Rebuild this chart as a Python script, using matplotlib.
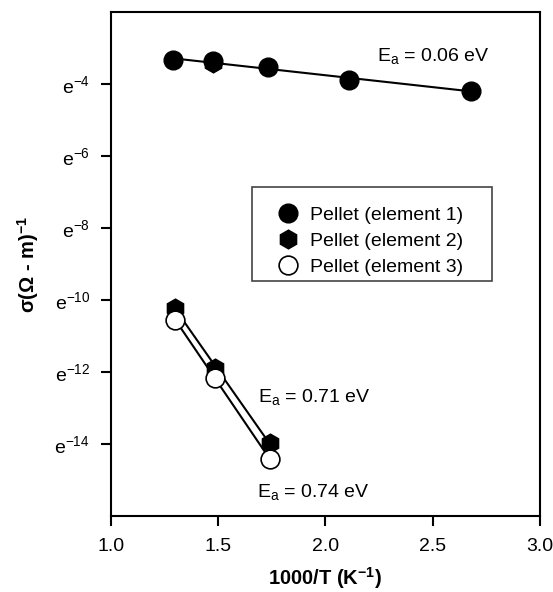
import numpy as np
import matplotlib
matplotlib.use("Agg")
import matplotlib.pyplot as plt
from matplotlib.patches import Rectangle

plt.rcParams['font.family'] = ['Liberation Sans', 'DejaVu Sans']
plt.rcParams['mathtext.default'] = 'regular'

# data: x = 1000/T, y = ln(sigma)
x1 = [1.29, 1.475, 1.73, 2.11, 2.68]
y1 = [-3.33, -3.37, -3.53, -3.89, -4.19]
x2 = [1.30, 1.485, 1.74]
y2 = [-10.22, -11.89, -13.97]
x3 = [1.30, 1.485, 1.74]
y3 = [-10.56, -12.17, -14.42]
x2_top = [1.475]
y2_top = [-3.41]

yticks = [-4, -6, -8, -10, -12, -14]
xticks = [1.0, 1.5, 2.0, 2.5, 3.0]
ea_labels = ["0.06", "0.71", "0.74"]

fig = plt.figure(figsize=(5.53, 5.92), dpi=100)
ax = fig.add_axes([0.2007, 0.1284, 0.7758, 0.8513])

# fit lines
for xs, ys in [(x1, y1), (x2, y2), (x3, y3)]:
    p = np.polyfit(xs, ys, 1)
    xx = np.array([min(xs), max(xs)])
    ax.plot(xx, np.polyval(p, xx), color='black', lw=1.5, zorder=2)

ms = 13.5
ax.plot(x2_top, y2_top, linestyle='none', marker='h', ms=ms, color='black', zorder=3)
ax.plot(x1, y1, linestyle='none', marker='o', ms=ms, color='black', mec='black',
        label='Pellet (element 1)', zorder=4)
ax.plot(x2, y2, linestyle='none', marker='h', ms=ms, color='black', mec='black',
        label='Pellet (element 2)', zorder=3)
ax.plot(x3, y3, linestyle='none', marker='o', ms=ms, mfc='white', mec='black', mew=1.2,
        label='Pellet (element 3)', zorder=4)

ax.set_xlim(1.0, 3.0)
ax.set_ylim(-16, -2)
ax.set_xticks(xticks)
ax.set_xticklabels([f"{v:.1f}" for v in xticks])
ax.set_yticks(yticks)
ax.set_yticklabels([f"e$^{{{v}}}$" for v in yticks])
ax.tick_params(axis='both', direction='out', length=7, width=1.5, labelsize=14)
ax.tick_params(axis='y', pad=8)
ax.tick_params(axis='x', pad=9)
for s in ax.spines.values():
    s.set_linewidth(1.5)

ax.set_xlabel('1000/T (K$^{-1}$)', fontsize=14.5, fontweight='bold', labelpad=7)
ax.set_ylabel(r'$\sigma$(Ω - m)$^{-1}$', fontsize=14.5, fontweight='bold', labelpad=10)

ax.text(2.24, -3.22, f"E$_a$ = {ea_labels[0]} eV", fontsize=14, ha='left', va='center')
ax.text(1.685, -12.69, f"E$_a$ = {ea_labels[1]} eV", fontsize=14, ha='left', va='center')
ax.text(1.68, -15.33, f"E$_a$ = {ea_labels[2]} eV", fontsize=14, ha='left', va='center')

leg = ax.legend(loc='upper left', bbox_to_anchor=(0.386, 0.614), fontsize=14,
                frameon=False, handletextpad=0.5,
                borderpad=0, labelspacing=0.42, markerscale=1.0, handlelength=1.2,
                borderaxespad=0)
ax.add_patch(Rectangle((0.3287, 0.4663), 0.888 - 0.3287, 0.6528 - 0.4663,
                       transform=ax.transAxes, fill=False, edgecolor='#444444',
                       lw=1.2, zorder=5))

fig.savefig('out.png', dpi=100)
